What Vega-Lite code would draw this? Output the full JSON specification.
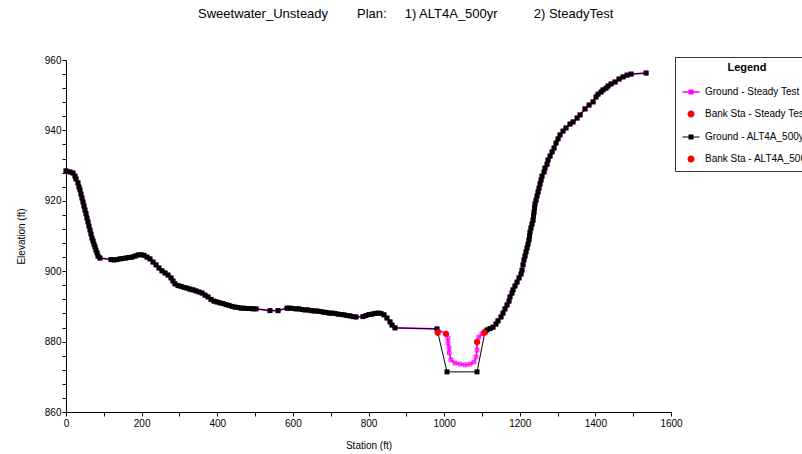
{
  "$schema": "https://vega.github.io/schema/vega-lite/v6.json",
  "width": 605,
  "height": 352,
  "autosize": {"type": "none"},
  "padding": {"left": 66, "top": 60, "right": 131, "bottom": 42},
  "background": "white",
  "config": {
    "view": {"stroke": null},
    "font": "Liberation Sans"
  },
  "title": {
    "text": "Sweetwater_Unsteady\u00a0\u00a0\u00a0\u00a0\u00a0\u00a0\u00a0\u00a0Plan:\u00a0\u00a0\u00a0\u00a0\u00a01) ALT4A_500yr\u00a0\u00a0\u00a0\u00a0\u00a0\u00a0\u00a0\u00a0\u00a0\u00a02) SteadyTest",
    "anchor": "start",
    "frame": "group",
    "dx": 132,
    "offset": 34,
    "fontSize": 13,
    "fontWeight": "normal",
    "font": "Liberation Sans",
    "color": "black"
  },
  "datasets": {
    "ground": [
      {"plan":"both","i":1,"station":0,"elev":928.5},
      {"plan":"both","i":2,"station":10.6,"elev":928.2},
      {"plan":"both","i":3,"station":18.5,"elev":927.9},
      {"plan":"both","i":4,"station":23.8,"elev":927.0},
      {"plan":"both","i":5,"station":26.4,"elev":926.2},
      {"plan":"both","i":6,"station":31.7,"elev":925.1},
      {"plan":"both","i":7,"station":34.4,"elev":923.9},
      {"plan":"both","i":8,"station":37.0,"elev":923.1},
      {"plan":"both","i":9,"station":39.7,"elev":921.9},
      {"plan":"both","i":10,"station":42.3,"elev":920.8},
      {"plan":"both","i":11,"station":45.0,"elev":919.7},
      {"plan":"both","i":12,"station":47.6,"elev":918.5},
      {"plan":"both","i":13,"station":50.2,"elev":917.4},
      {"plan":"both","i":14,"station":52.9,"elev":916.3},
      {"plan":"both","i":15,"station":55.5,"elev":915.1},
      {"plan":"both","i":16,"station":58.2,"elev":914.0},
      {"plan":"both","i":17,"station":60.8,"elev":912.8},
      {"plan":"both","i":18,"station":63.5,"elev":911.7},
      {"plan":"both","i":19,"station":66.1,"elev":910.6},
      {"plan":"both","i":20,"station":68.8,"elev":909.4},
      {"plan":"both","i":21,"station":71.4,"elev":908.6},
      {"plan":"both","i":22,"station":74.0,"elev":907.7},
      {"plan":"both","i":23,"station":76.7,"elev":906.9},
      {"plan":"both","i":24,"station":79.3,"elev":906.0},
      {"plan":"both","i":25,"station":82.0,"elev":905.2},
      {"plan":"both","i":26,"station":84.6,"elev":904.3},
      {"plan":"both","i":27,"station":89.9,"elev":903.75},
      {"plan":"both","i":28,"station":119.0,"elev":903.3},
      {"plan":"both","i":29,"station":126.9,"elev":903.2},
      {"plan":"both","i":30,"station":134.9,"elev":903.3},
      {"plan":"both","i":31,"station":142.8,"elev":903.5},
      {"plan":"both","i":32,"station":150.7,"elev":903.6},
      {"plan":"both","i":33,"station":158.7,"elev":903.75},
      {"plan":"both","i":34,"station":166.6,"elev":903.9},
      {"plan":"both","i":35,"station":174.5,"elev":904.0},
      {"plan":"both","i":36,"station":182.5,"elev":904.3},
      {"plan":"both","i":37,"station":190.4,"elev":904.6},
      {"plan":"both","i":38,"station":198.3,"elev":904.7},
      {"plan":"both","i":39,"station":206.3,"elev":904.5},
      {"plan":"both","i":40,"station":214.2,"elev":904.0},
      {"plan":"both","i":41,"station":222.1,"elev":903.5},
      {"plan":"both","i":42,"station":230.1,"elev":902.6},
      {"plan":"both","i":43,"station":238.0,"elev":901.8},
      {"plan":"both","i":44,"station":245.9,"elev":900.9},
      {"plan":"both","i":45,"station":253.9,"elev":900.1},
      {"plan":"both","i":46,"station":261.8,"elev":899.5},
      {"plan":"both","i":47,"station":269.7,"elev":898.9},
      {"plan":"both","i":48,"station":277.7,"elev":898.1},
      {"plan":"both","i":49,"station":283.0,"elev":897.2},
      {"plan":"both","i":50,"station":288.3,"elev":896.4},
      {"plan":"both","i":51,"station":296.2,"elev":895.9},
      {"plan":"both","i":52,"station":304.1,"elev":895.7},
      {"plan":"both","i":53,"station":312.1,"elev":895.4},
      {"plan":"both","i":54,"station":320.0,"elev":895.2},
      {"plan":"both","i":55,"station":327.9,"elev":894.9},
      {"plan":"both","i":56,"station":335.9,"elev":894.7},
      {"plan":"both","i":57,"station":343.8,"elev":894.4},
      {"plan":"both","i":58,"station":351.7,"elev":894.1},
      {"plan":"both","i":59,"station":359.7,"elev":893.8},
      {"plan":"both","i":60,"station":367.6,"elev":893.2},
      {"plan":"both","i":61,"station":375.5,"elev":892.7},
      {"plan":"both","i":62,"station":383.5,"elev":892.0},
      {"plan":"both","i":63,"station":391.4,"elev":891.5},
      {"plan":"both","i":64,"station":399.3,"elev":891.25},
      {"plan":"both","i":65,"station":407.3,"elev":891.0},
      {"plan":"both","i":66,"station":415.2,"elev":890.8},
      {"plan":"both","i":67,"station":423.1,"elev":890.5},
      {"plan":"both","i":68,"station":431.1,"elev":890.3},
      {"plan":"both","i":69,"station":439.0,"elev":890.0},
      {"plan":"both","i":70,"station":446.9,"elev":889.8},
      {"plan":"both","i":71,"station":454.9,"elev":889.7},
      {"plan":"both","i":72,"station":462.8,"elev":889.5},
      {"plan":"both","i":73,"station":470.7,"elev":889.5},
      {"plan":"both","i":74,"station":478.7,"elev":889.4},
      {"plan":"both","i":75,"station":486.6,"elev":889.4},
      {"plan":"both","i":76,"station":494.5,"elev":889.3},
      {"plan":"both","i":77,"station":502.5,"elev":889.3},
      {"plan":"both","i":78,"station":539.5,"elev":888.8},
      {"plan":"both","i":79,"station":560.7,"elev":888.8},
      {"plan":"both","i":80,"station":584.5,"elev":889.5},
      {"plan":"both","i":81,"station":592.4,"elev":889.5},
      {"plan":"both","i":82,"station":600.3,"elev":889.4},
      {"plan":"both","i":83,"station":608.3,"elev":889.3},
      {"plan":"both","i":84,"station":616.2,"elev":889.3},
      {"plan":"both","i":85,"station":624.1,"elev":889.1},
      {"plan":"both","i":86,"station":632.1,"elev":889.0},
      {"plan":"both","i":87,"station":640.0,"elev":889.0},
      {"plan":"both","i":88,"station":647.9,"elev":888.8},
      {"plan":"both","i":89,"station":655.9,"elev":888.7},
      {"plan":"both","i":90,"station":663.8,"elev":888.7},
      {"plan":"both","i":91,"station":671.7,"elev":888.55},
      {"plan":"both","i":92,"station":679.7,"elev":888.4},
      {"plan":"both","i":93,"station":687.6,"elev":888.3},
      {"plan":"both","i":94,"station":695.5,"elev":888.1},
      {"plan":"both","i":95,"station":703.5,"elev":888.1},
      {"plan":"both","i":96,"station":711.4,"elev":888.0},
      {"plan":"both","i":97,"station":719.3,"elev":887.8},
      {"plan":"both","i":98,"station":727.3,"elev":887.7},
      {"plan":"both","i":99,"station":735.2,"elev":887.6},
      {"plan":"both","i":100,"station":743.1,"elev":887.4},
      {"plan":"both","i":101,"station":751.1,"elev":887.3},
      {"plan":"both","i":102,"station":759.0,"elev":887.1},
      {"plan":"both","i":103,"station":766.9,"elev":887.0},
      {"plan":"both","i":104,"station":785.4,"elev":887.1},
      {"plan":"both","i":105,"station":793.4,"elev":887.4},
      {"plan":"both","i":106,"station":801.3,"elev":887.7},
      {"plan":"both","i":107,"station":809.2,"elev":887.8},
      {"plan":"both","i":108,"station":817.2,"elev":888.0},
      {"plan":"both","i":109,"station":825.1,"elev":888.1},
      {"plan":"both","i":110,"station":833.0,"elev":888.0},
      {"plan":"both","i":111,"station":841.0,"elev":887.6},
      {"plan":"both","i":112,"station":848.9,"elev":886.7},
      {"plan":"both","i":113,"station":856.9,"elev":885.6},
      {"plan":"both","i":114,"station":862.2,"elev":884.7},
      {"plan":"both","i":115,"station":870.1,"elev":883.9},
      {"plan":"both","i":116,"station":981.1,"elev":883.6},
      {"plan":"steady","i":117,"station":1005,"elev":882.2},
      {"plan":"steady","i":118,"station":1010,"elev":881.0},
      {"plan":"steady","i":119,"station":1010.2,"elev":879.6},
      {"plan":"steady","i":120,"station":1012.9,"elev":878.2},
      {"plan":"steady","i":121,"station":1013.5,"elev":876.8},
      {"plan":"steady","i":122,"station":1018.2,"elev":874.8},
      {"plan":"steady","i":123,"station":1028.7,"elev":873.9},
      {"plan":"steady","i":124,"station":1042,"elev":873.6},
      {"plan":"steady","i":125,"station":1055.2,"elev":873.4},
      {"plan":"steady","i":126,"station":1068.4,"elev":873.6},
      {"plan":"steady","i":127,"station":1079,"elev":874.2},
      {"plan":"steady","i":128,"station":1084.3,"elev":875.6},
      {"plan":"steady","i":129,"station":1087,"elev":877.6},
      {"plan":"steady","i":130,"station":1087.2,"elev":879.9},
      {"plan":"steady","i":131,"station":1092.2,"elev":881.3},
      {"plan":"steady","i":132,"station":1100,"elev":882.2},
      {"plan":"alt","i":133,"station":1007.6,"elev":871.4},
      {"plan":"alt","i":134,"station":1087,"elev":871.4},
      {"plan":"both","i":135,"station":1108,"elev":882.7},
      {"plan":"both","i":136,"station":1113.4,"elev":883.3},
      {"plan":"both","i":137,"station":1121.3,"elev":883.7},
      {"plan":"both","i":138,"station":1129.3,"elev":884.1},
      {"plan":"both","i":139,"station":1137.2,"elev":885.0},
      {"plan":"both","i":140,"station":1142.5,"elev":885.9},
      {"plan":"both","i":141,"station":1150.4,"elev":887.0},
      {"plan":"both","i":142,"station":1155.7,"elev":888.1},
      {"plan":"both","i":143,"station":1161.0,"elev":889.3},
      {"plan":"both","i":144,"station":1166.3,"elev":890.4},
      {"plan":"both","i":145,"station":1171.6,"elev":891.5},
      {"plan":"both","i":146,"station":1174.2,"elev":892.7},
      {"plan":"both","i":147,"station":1179.5,"elev":893.8},
      {"plan":"both","i":148,"station":1182.2,"elev":894.7},
      {"plan":"both","i":149,"station":1187.5,"elev":895.8},
      {"plan":"both","i":150,"station":1192.8,"elev":896.9},
      {"plan":"both","i":151,"station":1198.1,"elev":898.1},
      {"plan":"both","i":152,"station":1203.4,"elev":899.2},
      {"plan":"both","i":153,"station":1206.0,"elev":900.3},
      {"plan":"both","i":154,"station":1208.7,"elev":901.8},
      {"plan":"both","i":155,"station":1211.3,"elev":903.2},
      {"plan":"both","i":156,"station":1214.0,"elev":904.3},
      {"plan":"both","i":157,"station":1216.6,"elev":905.5},
      {"plan":"both","i":158,"station":1219.3,"elev":906.6},
      {"plan":"both","i":159,"station":1221.9,"elev":907.7},
      {"plan":"both","i":160,"station":1224.5,"elev":908.9},
      {"plan":"both","i":161,"station":1225.9,"elev":910.0},
      {"plan":"both","i":162,"station":1227.2,"elev":911.1},
      {"plan":"both","i":163,"station":1229.8,"elev":912.3},
      {"plan":"both","i":164,"station":1232.5,"elev":913.4},
      {"plan":"both","i":165,"station":1235.1,"elev":914.5},
      {"plan":"both","i":166,"station":1236.5,"elev":915.7},
      {"plan":"both","i":167,"station":1237.8,"elev":916.8},
      {"plan":"both","i":168,"station":1239.1,"elev":918.0},
      {"plan":"both","i":169,"station":1240.4,"elev":919.1},
      {"plan":"both","i":170,"station":1243.1,"elev":920.2},
      {"plan":"both","i":171,"station":1245.7,"elev":921.4},
      {"plan":"both","i":172,"station":1248.4,"elev":922.5},
      {"plan":"both","i":173,"station":1251.0,"elev":923.6},
      {"plan":"both","i":174,"station":1253.7,"elev":924.8},
      {"plan":"both","i":175,"station":1256.3,"elev":925.9},
      {"plan":"both","i":176,"station":1258.9,"elev":927.0},
      {"plan":"both","i":177,"station":1264.2,"elev":928.2},
      {"plan":"both","i":178,"station":1266.9,"elev":929.3},
      {"plan":"both","i":179,"station":1272.2,"elev":930.4},
      {"plan":"both","i":180,"station":1274.8,"elev":931.6},
      {"plan":"both","i":181,"station":1280.1,"elev":932.7},
      {"plan":"both","i":182,"station":1285.4,"elev":933.9},
      {"plan":"both","i":183,"station":1290.7,"elev":935.0},
      {"plan":"both","i":184,"station":1296.0,"elev":936.4},
      {"plan":"both","i":185,"station":1301.3,"elev":937.6},
      {"plan":"both","i":186,"station":1306.5,"elev":938.7},
      {"plan":"both","i":187,"station":1314.5,"elev":939.8},
      {"plan":"both","i":188,"station":1322.4,"elev":940.7},
      {"plan":"both","i":189,"station":1333.0,"elev":941.8},
      {"plan":"both","i":190,"station":1341.0,"elev":942.4},
      {"plan":"both","i":191,"station":1351.6,"elev":943.5},
      {"plan":"both","i":192,"station":1359.5,"elev":944.4},
      {"plan":"both","i":193,"station":1372.7,"elev":946.1},
      {"plan":"both","i":194,"station":1383.3,"elev":947.2},
      {"plan":"both","i":195,"station":1393.9,"elev":948.1},
      {"plan":"both","i":196,"station":1401.8,"elev":949.5},
      {"plan":"both","i":197,"station":1407.1,"elev":950.3},
      {"plan":"both","i":198,"station":1415.0,"elev":950.9},
      {"plan":"both","i":199,"station":1420.3,"elev":951.5},
      {"plan":"both","i":200,"station":1428.3,"elev":952.0},
      {"plan":"both","i":201,"station":1433.5,"elev":952.6},
      {"plan":"both","i":202,"station":1441.5,"elev":953.2},
      {"plan":"both","i":203,"station":1452.1,"elev":953.75},
      {"plan":"both","i":204,"station":1462.6,"elev":954.6},
      {"plan":"both","i":205,"station":1473.2,"elev":955.2},
      {"plan":"both","i":206,"station":1483.8,"elev":955.7},
      {"plan":"both","i":207,"station":1494.4,"elev":956.0},
      {"plan":"both","i":208,"station":1534.1,"elev":956.3}
    ],
    "banks": [
      {"series":"Bank Sta - Steady Test","station":1005,"elev":882.2},
      {"series":"Bank Sta - Steady Test","station":1087.2,"elev":879.9},
      {"series":"Bank Sta - ALT4A_500yr","station":983,"elev":882.5},
      {"series":"Bank Sta - ALT4A_500yr","station":1106,"elev":882.5}
    ]
  },
  "encoding": {
    "x": {
      "field": "station",
      "type": "quantitative",
      "scale": {"domain": [0, 1600], "nice": false, "zero": false},
      "axis": {
        "title": "Station (ft)",
        "values": [0,100,200,300,400,500,600,700,800,900,1000,1100,1200,1300,1400,1500,1600],
        "labelExpr": "datum.value % 200 === 0 ? datum.label : ''",
        "format": "d",
        "grid": false,
        "labelOverlap": false,
        "labelFlush": false,
        "domainColor": "black",
        "tickColor": "black",
        "labelColor": "black",
        "titleColor": "black",
        "tickSize": 4,
        "labelFontSize": 10,
        "titleFontSize": 10,
        "titleFontWeight": "normal",
        "labelPadding": 2,
        "titlePadding": 12
      }
    },
    "y": {
      "field": "elev",
      "type": "quantitative",
      "scale": {"domain": [860, 960], "nice": false, "zero": false},
      "axis": {
        "title": "Elevation (ft)",
        "values": [860,864,868,872,876,880,884,888,892,896,900,904,908,912,916,920,924,928,932,936,940,944,948,952,956,960],
        "labelExpr": "datum.value % 20 === 0 ? datum.label : ''",
        "format": "d",
        "grid": false,
        "labelOverlap": false,
        "labelFlush": false,
        "domainColor": "black",
        "tickColor": "black",
        "labelColor": "black",
        "titleColor": "black",
        "tickSize": 4,
        "labelFontSize": 10,
        "titleFontSize": 10,
        "titleFontWeight": "normal",
        "labelPadding": 1,
        "titlePadding": 18
      }
    }
  },
  "layer": [
    {
      "data": {"name": "ground"},
      "transform": [{"filter": "datum.plan !== 'alt'"}],
      "mark": {"type": "line", "color": "#ff00ff", "strokeWidth": 1.8},
      "encoding": {"order": {"field": "i", "type": "quantitative"}}
    },
    {
      "data": {"name": "ground"},
      "transform": [{"filter": "datum.plan !== 'alt'"}],
      "mark": {"type": "point", "shape": "square", "filled": false, "color": "#ff00ff", "size": 14, "strokeWidth": 1, "opacity": 1}
    },
    {
      "data": {"name": "ground"},
      "transform": [{"filter": "datum.plan !== 'steady'"}],
      "mark": {"type": "line", "color": "#000000", "strokeWidth": 1},
      "encoding": {"order": {"field": "i", "type": "quantitative"}}
    },
    {
      "data": {"name": "ground"},
      "transform": [{"filter": "datum.plan !== 'steady'"}],
      "mark": {"type": "point", "shape": "square", "filled": true, "color": "#000000", "size": 25, "opacity": 1}
    },
    {
      "data": {"name": "banks"},
      "mark": {"type": "point", "filled": true, "size": 335, "opacity": 1},
      "encoding": {
        "color": {
          "field": "series",
          "type": "nominal",
          "scale": {
            "domain": ["Ground - Steady Test", "Bank Sta - Steady Test", "Ground - ALT4A_500yr", "Bank Sta - ALT4A_500yr"],
            "range": ["#ff00ff", "#ff0000", "#000000", "#ff0000"]
          },
          "legend": {
            "title": "Legend",
            "orient": "none",
            "legendX": 609,
            "legendY": -3,
            "titleAnchor": "middle",
            "titleFontSize": 11,
            "titleFontWeight": "bold",
            "titleColor": "black",
            "titlePadding": 8,
            "labelFontSize": 10,
            "labelColor": "black",
            "labelLimit": 300,
            "labelOffset": 3,
            "strokeColor": "#333333",
            "fillColor": "white",
            "padding": 5,
            "rowPadding": 5,
            "symbolSize": 400,
            "symbolOpacity": 1
          }
        },
        "shape": {
          "field": "series",
          "type": "nominal",
          "scale": {
            "domain": ["Ground - Steady Test", "Bank Sta - Steady Test", "Ground - ALT4A_500yr", "Bank Sta - ALT4A_500yr"],
            "range": [
              "M-0.85,-0.07H0.85V0.07H-0.85ZM-0.25,-0.25H0.25V0.25H-0.25Z",
              "M0.35,0A0.35,0.35,0,1,1,-0.35,0A0.35,0.35,0,1,1,0.35,0Z",
              "M-0.85,-0.05H0.85V0.05H-0.85ZM-0.25,-0.25H0.25V0.25H-0.25Z",
              "M0.35,0A0.35,0.35,0,1,1,-0.35,0A0.35,0.35,0,1,1,0.35,0Z"
            ]
          },
          "legend": {
            "title": "Legend",
            "orient": "none",
            "legendX": 609,
            "legendY": -3,
            "titleAnchor": "middle",
            "titleFontSize": 11,
            "titleFontWeight": "bold",
            "titleColor": "black",
            "titlePadding": 8,
            "labelFontSize": 10,
            "labelColor": "black",
            "labelLimit": 300,
            "labelOffset": 3,
            "strokeColor": "#333333",
            "fillColor": "white",
            "padding": 5,
            "rowPadding": 5,
            "symbolSize": 400,
            "symbolOpacity": 1
          }
        }
      }
    }
  ]
}
